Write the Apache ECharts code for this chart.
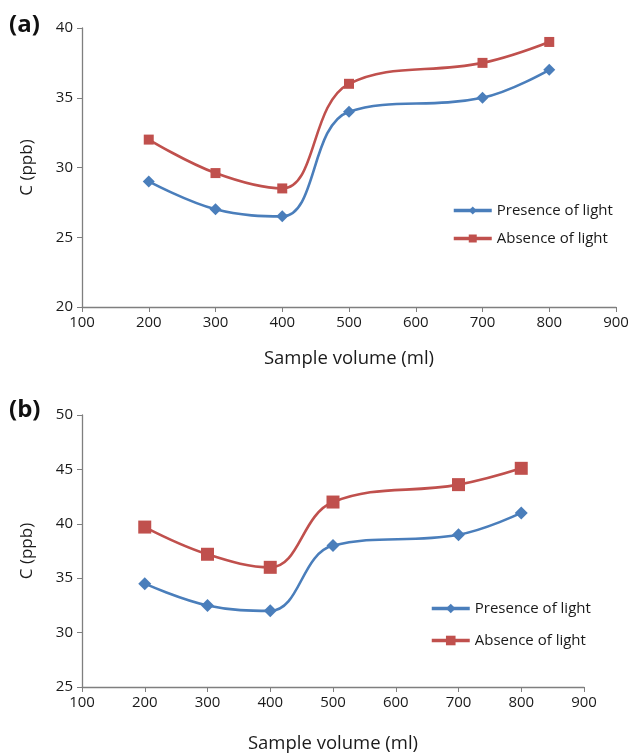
<!DOCTYPE html>
<html>
<head>
<meta charset="utf-8">
<script src="https://cdn.jsdelivr.net/npm/echarts@6/dist/echarts.min.js"></script>
<style>
html,body{margin:0;padding:0;background:#fff;}
#chart{width:632px;height:754px;}
</style>
</head>
<body>
<div id="chart"></div>
<script>
// Data
const volumes = [200, 300, 400, 500, 700, 800];
const presenceA = [29, 27, 26.5, 34, 35, 37];
const absenceA = [32, 29.6, 28.5, 36, 37.5, 39];
const presenceB = [34.5, 32.5, 32, 38, 39, 41];
const absenceB = [39.7, 37.2, 36, 42, 43.6, 45.1];
const seriesNames = ['Presence of light', 'Absence of light'];
const panelLabels = ['(a)', '(b)'];
const xTitle = 'Sample volume (ml)';
const yTitle = 'C (ppb)';

const BLUE = '#4A7EBB';
const RED = '#C0504D';
const FONT = '"Open Sans", "Noto Sans", sans-serif';
const AXC = '#7f7f7f';

function pairs(xs, ys){ return xs.map((x,i)=>[x, ys[i]]); }

function xAxisCfg(gi, gap){
  return {
    type:'value', gridIndex:gi, min:100, max:900, interval:100,
    name:xTitle, nameLocation:'middle', nameGap:gap,
    nameTextStyle:{fontFamily:FONT, fontSize:18.5, color:'#1a1a1a'},
    axisLine:{show:true, lineStyle:{color:AXC, width:1.3}},
    axisTick:{show:true, inside:false, length:5, lineStyle:{color:AXC}},
    axisLabel:{fontFamily:FONT, fontSize:15, color:'#1a1a1a', margin:8},
    splitLine:{show:false}
  };
}
function yAxisCfg(gi, min, max){
  return {
    type:'value', gridIndex:gi, min:min, max:max, interval:5,
    name:yTitle, nameLocation:'middle', nameGap:46, nameRotate:90,
    nameTextStyle:{fontFamily:FONT, fontSize:17, color:'#1a1a1a'},
    axisLine:{show:true, lineStyle:{color:AXC, width:1.3}},
    axisTick:{show:true, inside:false, length:5, lineStyle:{color:AXC}},
    axisLabel:{fontFamily:FONT, fontSize:15, color:'#1a1a1a', margin:9},
    splitLine:{show:false}
  };
}
function lineSeries(name, gi, ys, color, symbol, size){
  return {
    name:name, type:'line', xAxisIndex:gi, yAxisIndex:gi,
    data:pairs(volumes, ys), smooth:0.4,
    symbol:symbol, symbolSize:size,
    lineStyle:{color:color, width:2.6},
    itemStyle:{color:color},
    emphasis:{disabled:true}, animation:false, z:3
  };
}

const chart = echarts.init(document.getElementById('chart'), null, {renderer:'canvas'});
chart.setOption({
  backgroundColor:'#fff',
  animation:false,
  grid:[
    {left:82, top:28, width:534, height:279},
    {left:82, top:415, width:502, height:276}
  ],
  xAxis:[xAxisCfg(0, 42), xAxisCfg(1, 47)],
  yAxis:[yAxisCfg(0, 20, 40), yAxisCfg(1, 25, 50)],
  legend:[
    {orient:'vertical', left:447, top:198, itemGap:13, itemWidth:38, itemHeight:10,
     lineStyle:{width:3.5},
     textStyle:{fontFamily:FONT, fontSize:15, color:'#1a1a1a'},
     data:seriesNames, selectedMode:false},
    {orient:'vertical', left:425, top:596, itemGap:17, itemWidth:38, itemHeight:12,
     lineStyle:{width:3.5},
     textStyle:{fontFamily:FONT, fontSize:15, color:'#1a1a1a'},
     data:seriesNames, selectedMode:false}
  ],
  graphic:[
    {type:'text', left:9, top:13, style:{text:panelLabels[0], font:'bold 24px ' + FONT, fill:'#111'}},
    {type:'text', left:9, top:398, style:{text:panelLabels[1], font:'bold 24px ' + FONT, fill:'#111'}}
  ],
  series:[
    lineSeries(seriesNames[0], 0, presenceA, BLUE, 'diamond', 12),
    lineSeries(seriesNames[1], 0, absenceA, RED, 'rect', 10),
    lineSeries(seriesNames[0], 1, presenceB, BLUE, 'diamond', 13),
    lineSeries(seriesNames[1], 1, absenceB, RED, 'rect', 13)
  ]
});
</script>
</body>
</html>
